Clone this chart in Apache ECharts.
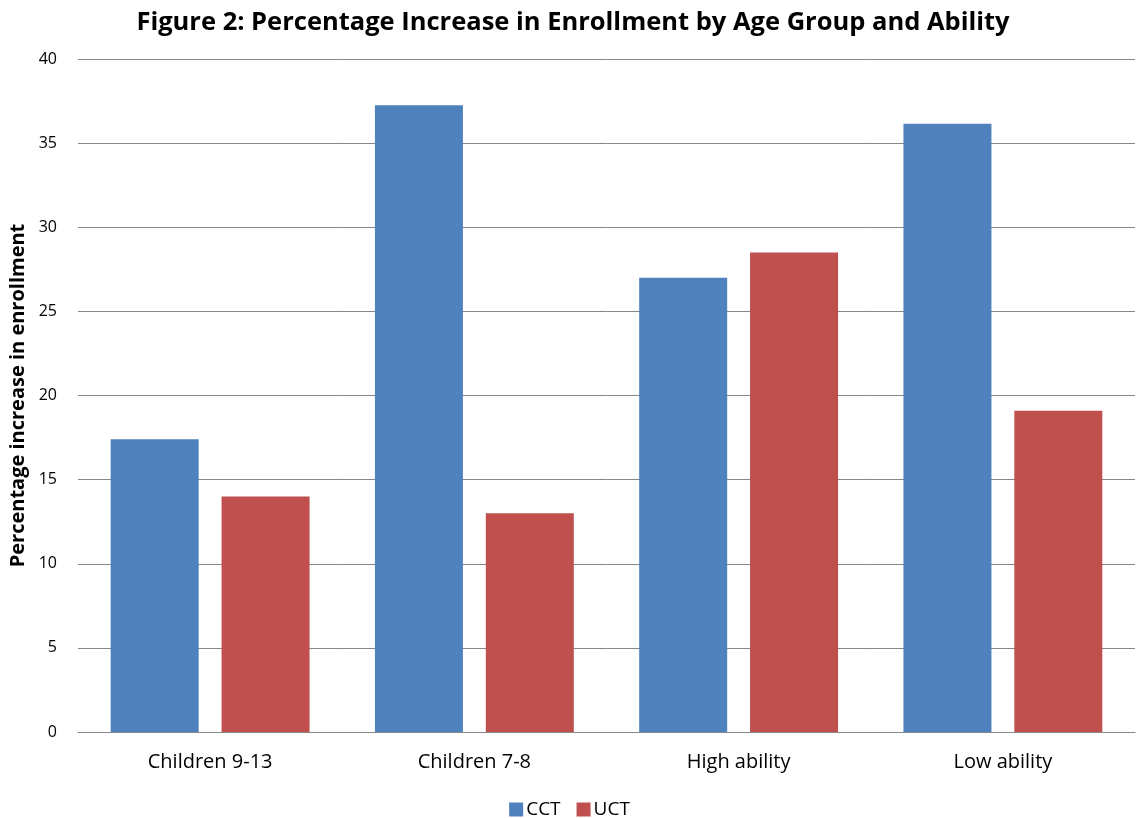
<!DOCTYPE html>
<html><head><meta charset="utf-8">
<script src="https://cdn.jsdelivr.net/npm/echarts@6/dist/echarts.min.js"></script>
<style>html,body{margin:0;padding:0;background:#fff}#c{width:1139px;height:818px}</style>
</head><body><div id="c"></div>
<script>
const categories = ['Children 9-13', 'Children 7-8', 'High ability', 'Low ability'];
const cctValues = [17.4, 37.25, 27.0, 36.15];
const uctValues = [14.0, 13.0, 28.5, 19.1];
const yTicks = [0, 5, 10, 15, 20, 25, 30, 35, 40];
const FONT = "'Open Sans', sans-serif";
const chart = echarts.init(document.getElementById('c'));
chart.setOption({
  animation: false,
  textStyle: { fontFamily: FONT },
  title: {
    text: 'Figure 2: Percentage Increase in Enrollment by Age Group and Ability',
    left: 568, top: 5, textAlign: 'center',
    textStyle: { fontFamily: FONT, fontSize: 25.5, fontWeight: 'bold', color: '#000' }
  },
  legend: {
    data: ['CCT', 'UCT'], top: 795, left: 'center',
    icon: 'rect', itemWidth: 14, itemHeight: 14, itemGap: 16,
    textStyle: { fontFamily: FONT, fontSize: 19, color: '#000', padding: [0, 0, 0, -2] }
  },
  grid: { left: 78, right: 4, top: 59, bottom: 86, containLabel: false, outerBoundsMode: 'none' },
  xAxis: {
    type: 'category', data: categories,
    axisLine: { lineStyle: { color: '#868686', width: 1 } },
    axisTick: { show: false },
    axisLabel: { fontFamily: FONT, fontSize: 20, color: '#000', margin: 20 }
  },
  yAxis: {
    type: 'value', min: yTicks[0], max: yTicks[yTicks.length - 1], interval: 5,
    name: 'Percentage increase in enrollment', nameLocation: 'middle', nameGap: 47,
    nameTextStyle: { fontFamily: FONT, fontSize: 20, fontWeight: 'bold', color: '#000' },
    axisLine: { show: false }, axisTick: { show: false },
    axisLabel: { fontFamily: FONT, fontSize: 16, color: '#000', margin: 21 },
    splitLine: { lineStyle: { color: '#868686', width: 1 } }
  },
  series: [
    { name: 'CCT', type: 'bar', data: cctValues, barWidth: 88, barGap: '26%', itemStyle: { color: '#4F81BD' } },
    { name: 'UCT', type: 'bar', data: uctValues, barWidth: 88, itemStyle: { color: '#C0504D' } }
  ]
});
</script></body></html>
